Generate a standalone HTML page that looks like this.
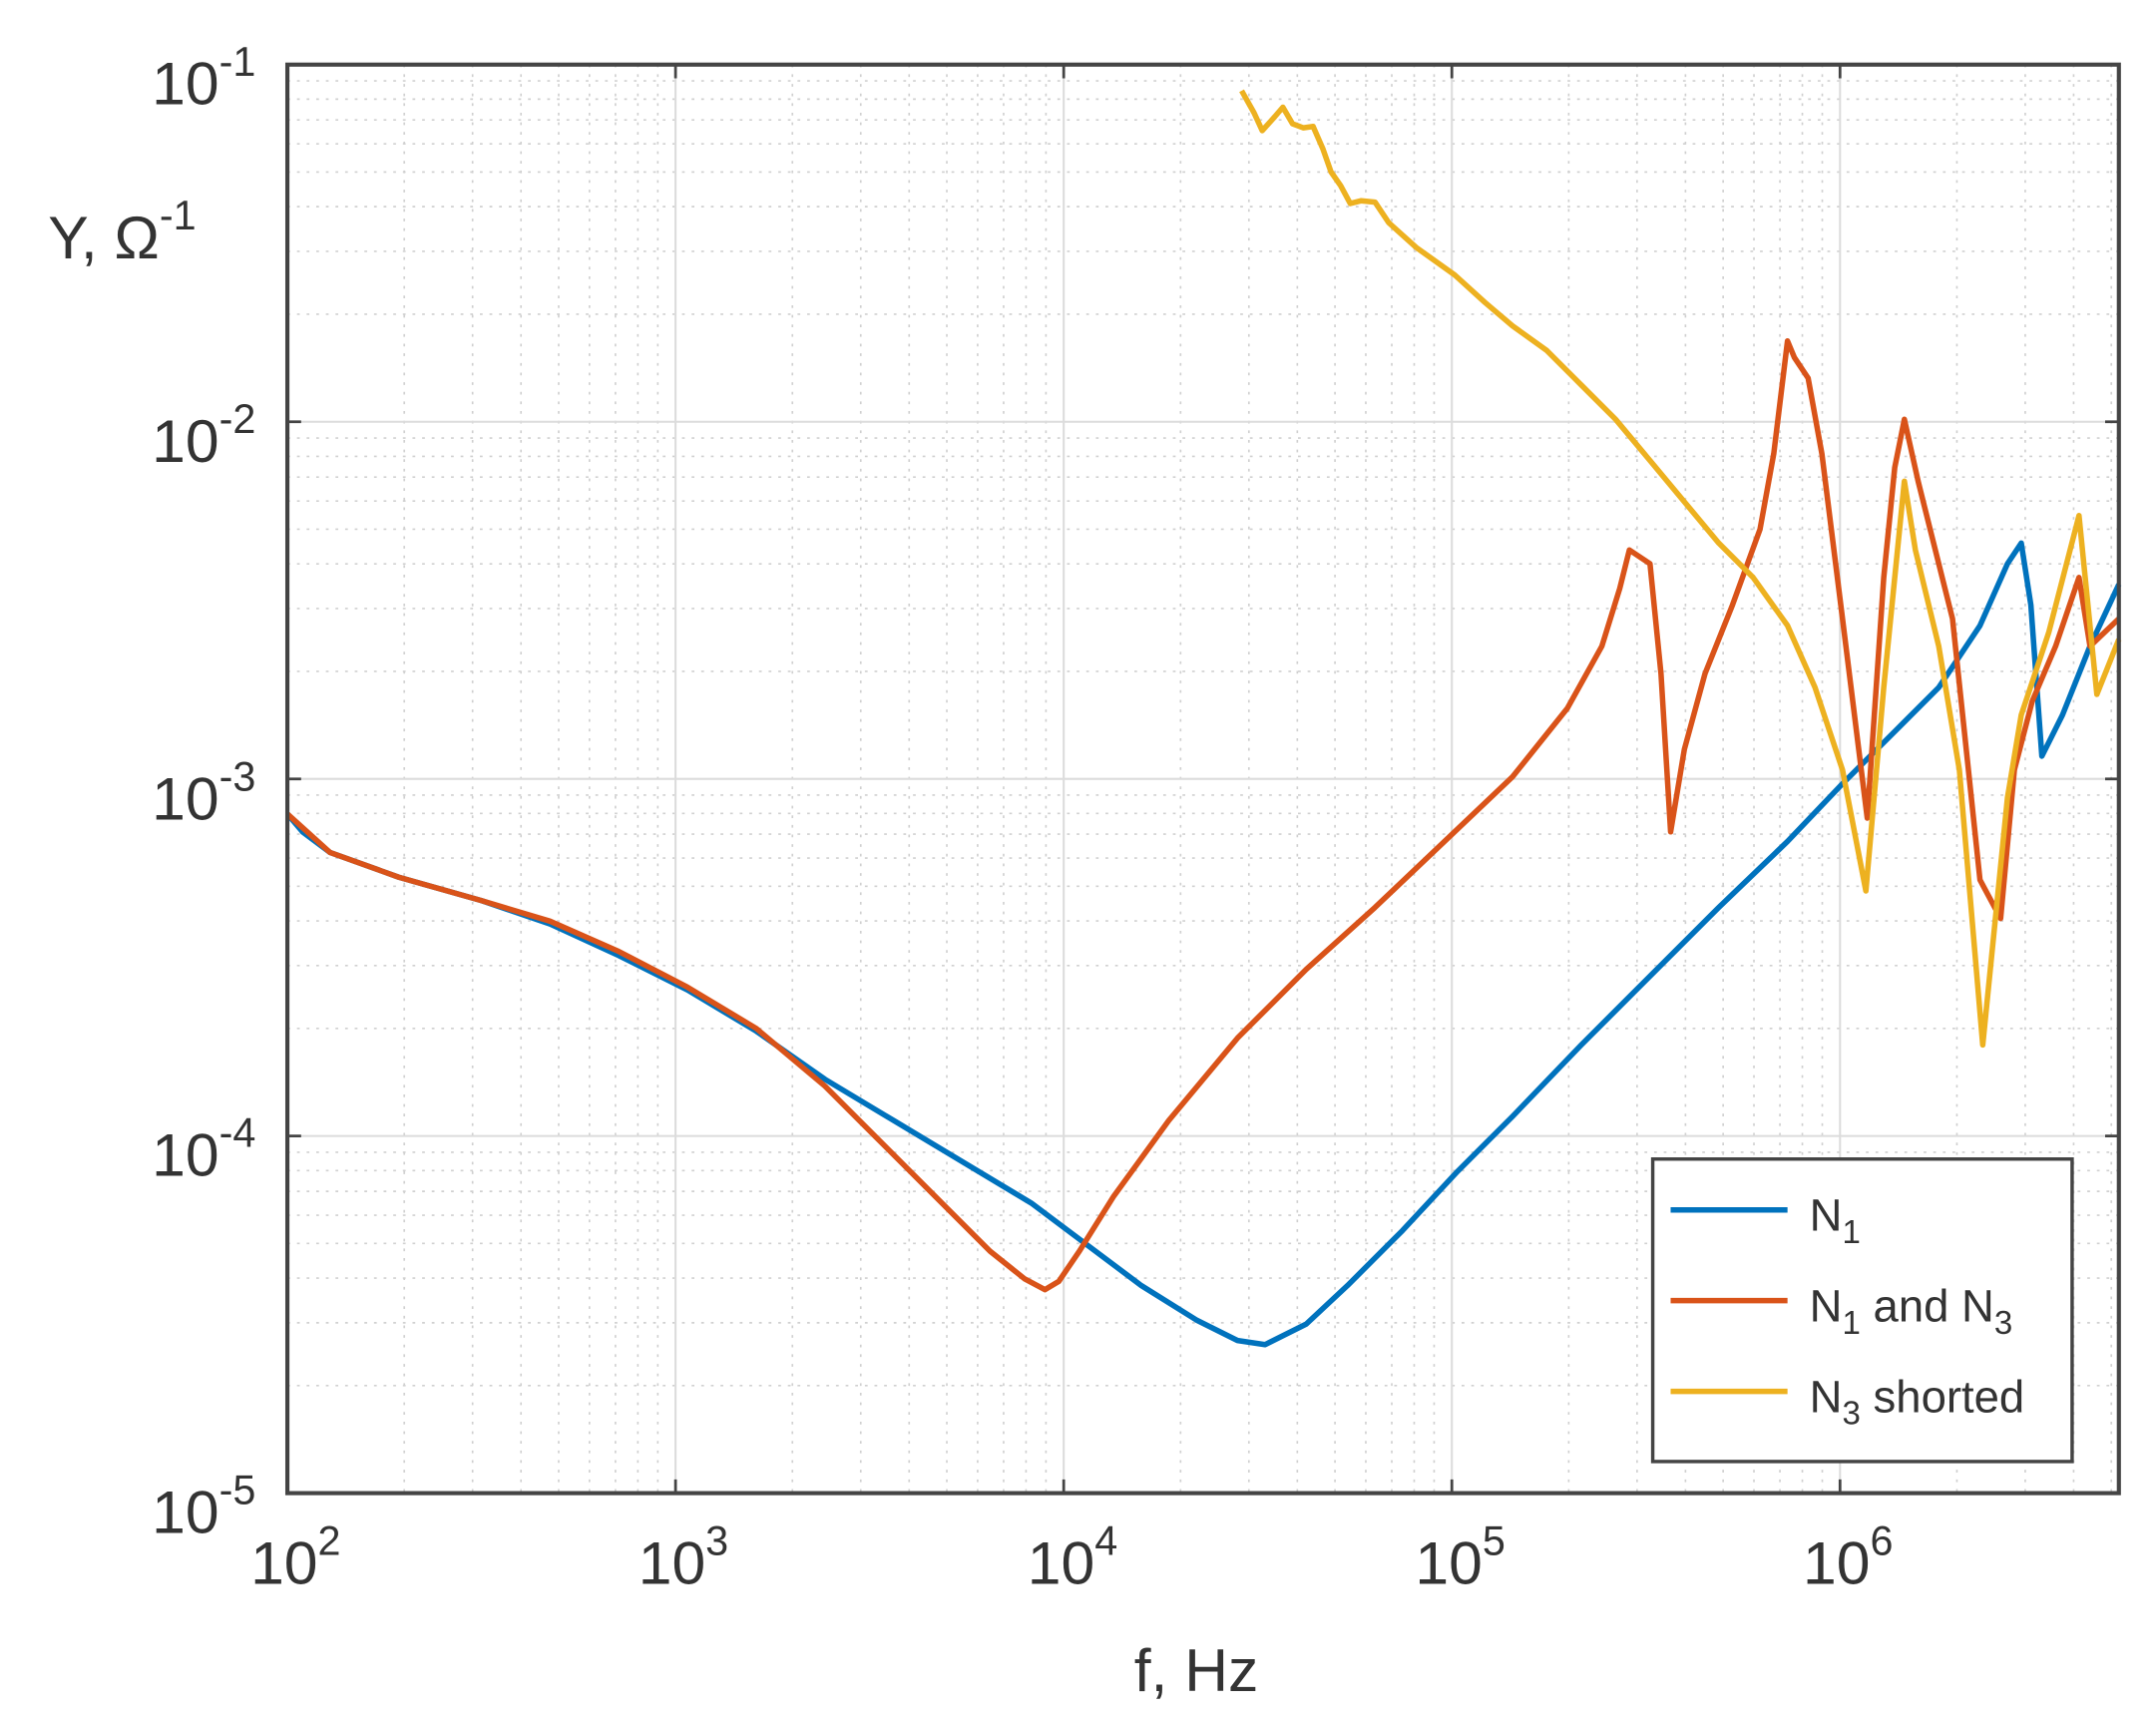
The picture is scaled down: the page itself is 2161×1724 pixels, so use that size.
<!DOCTYPE html>
<html><head><meta charset="utf-8"><style>html,body{margin:0;padding:0;background:#fff}svg{display:block}</style></head>
<body>
<svg width="2161" height="1724" viewBox="0 0 1568 1251" preserveAspectRatio="none" xmlns="http://www.w3.org/2000/svg" font-family="Liberation Sans, Arial, sans-serif" fill="#333">
<rect width="1568" height="1251" fill="#fff"/>
<g stroke="#d0d0d0" stroke-width="1.2" stroke-dasharray="2,5" fill="none">
<path d="M294 47V1086M343.7 47V1086M378.9 47V1086M406.3 47V1086M428.7 47V1086M447.6 47V1086M463.9 47V1086M478.4 47V1086
M576.3 47V1086M626 47V1086M661.2 47V1086M688.6 47V1086M711 47V1086M729.9 47V1086M746.2 47V1086M760.7 47V1086
M858.6 47V1086M908.3 47V1086M943.5 47V1086M970.9 47V1086M993.3 47V1086M1012.2 47V1086M1028.5 47V1086M1043 47V1086
M1140.9 47V1086M1190.6 47V1086M1225.8 47V1086M1253.2 47V1086M1275.6 47V1086M1294.5 47V1086M1310.8 47V1086M1325.3 47V1086
M1423.2 47V1086M1472.9 47V1086M1508.1 47V1086M1535.5 47V1086
M209 1007.8H1541M209 962.1H1541M209 929.6H1541M209 904.4H1541M209 883.9H1541M209 866.5H1541M209 851.4H1541M209 838.1H1541
M209 748H1541M209 702.3H1541M209 669.8H1541M209 644.6H1541M209 624.1H1541M209 606.7H1541M209 591.6H1541M209 578.3H1541
M209 488.3H1541M209 442.6H1541M209 410.1H1541M209 384.9H1541M209 364.4H1541M209 347H1541M209 331.9H1541M209 318.6H1541
M209 228.5H1541M209 182.8H1541M209 150.3H1541M209 125.1H1541M209 104.6H1541M209 87.2H1541M209 72.1H1541M209 58.8H1541"/>
</g>
<g stroke="#dcdcdc" stroke-width="1.5" fill="none">
<path d="M491.3 47V1086M773.6 47V1086M1055.9 47V1086M1338.2 47V1086M209 826.25H1541M209 566.5H1541M209 306.75H1541"/>
</g>
<g fill="none" stroke-width="4" stroke-linejoin="round">
<polyline stroke="#0072bd" points="209,592 220,605 240,620 290,638 350,655 400,672 450,695 500,720 550,750 600,785 650,815 700,845 750,875 790,905 830,935 870,960 900,975 920,978 950,963 980,935 1020,895 1060,852 1100,812 1150,760 1200,710 1250,660 1300,612 1340,570 1380,530 1410,500 1440,455 1460,410 1470,395 1477,440 1485,550 1500,520 1520,470 1541,425"/>
<polyline stroke="#d95319" points="209,592 240,620 290,638 350,655 400,670 450,692 500,718 550,748 600,790 640,830 680,870 720,910 745,930 760,938 770,932 785,910 810,870 850,815 900,755 950,705 1000,660 1060,603 1100,565 1140,515 1165,470 1178,428 1185,400 1200,410 1208,490 1215,605 1225,545 1240,490 1260,440 1280,385 1290,330 1300,248 1305,260 1315,275 1325,330 1340,450 1358,595 1370,420 1378,340 1385,305 1395,350 1420,450 1440,640 1455,668 1465,560 1478,510 1495,470 1512,420 1520,470 1541,450"/>
<polyline stroke="#edb120" points="903,66 912,82 918,95 927,85 933,78 940,90 948,93 955,92 962,108 968,125 975,135 982,148 990,146 1000,147 1010,162 1030,180 1058,200 1080,220 1100,237 1125,255 1150,280 1175,305 1200,335 1225,365 1250,395 1275,420 1300,455 1320,500 1340,560 1357,648 1370,500 1385,350 1393,400 1410,470 1425,560 1442,760 1460,580 1470,520 1490,460 1512,375 1525,505 1535,480 1541,465"/>
</g>
<rect x="209" y="47" width="1332" height="1039" fill="none" stroke="#444" stroke-width="3"/>
<g stroke="#444" stroke-width="2">
<path d="M491.3 1086v-10M773.6 1086v-10M1055.9 1086v-10M1338.2 1086v-10M491.3 47v10M773.6 47v10M1055.9 47v10M1338.2 47v10M209 826.25h10M209 566.5h10M209 306.75h10M1541 826.25h-10M1541 566.5h-10M1541 306.75h-10"/>
</g>
<g font-size="44" text-anchor="end">
<text x="186" y="76">10<tspan font-size="30" dy="-21">-1</tspan></text>
<text x="186" y="336">10<tspan font-size="30" dy="-21">-2</tspan></text>
<text x="186" y="596">10<tspan font-size="30" dy="-21">-3</tspan></text>
<text x="186" y="855">10<tspan font-size="30" dy="-21">-4</tspan></text>
<text x="186" y="1115">10<tspan font-size="30" dy="-21">-5</tspan></text>
</g>
<g font-size="44" text-anchor="middle">
<text x="215" y="1152">10<tspan font-size="30" dy="-21">2</tspan></text>
<text x="497" y="1152">10<tspan font-size="30" dy="-21">3</tspan></text>
<text x="780" y="1152">10<tspan font-size="30" dy="-21">4</tspan></text>
<text x="1062" y="1152">10<tspan font-size="30" dy="-21">5</tspan></text>
<text x="1344" y="1152">10<tspan font-size="30" dy="-21">6</tspan></text>
<text x="870" y="1230">f, Hz</text>
</g>
<text x="35" y="188" font-size="44">Y,  Ω<tspan font-size="30" dy="-21">-1</tspan></text>
<rect x="1202" y="843" width="305" height="220" fill="#fff" stroke="#444" stroke-width="2.5"/>
<g stroke-width="4">
<line x1="1215" y1="880" x2="1300" y2="880" stroke="#0072bd"/>
<line x1="1215" y1="946" x2="1300" y2="946" stroke="#d95319"/>
<line x1="1215" y1="1012" x2="1300" y2="1012" stroke="#edb120"/>
</g>
<g font-size="33">
<text x="1316" y="895">N<tspan font-size="24" dy="9">1</tspan></text>
<text x="1316" y="961">N<tspan font-size="24" dy="9">1</tspan><tspan dy="-9"> and N</tspan><tspan font-size="24" dy="9">3</tspan></text>
<text x="1316" y="1027">N<tspan font-size="24" dy="9">3</tspan><tspan dy="-9"> shorted</tspan></text>
</g>
</svg>
</body></html>
